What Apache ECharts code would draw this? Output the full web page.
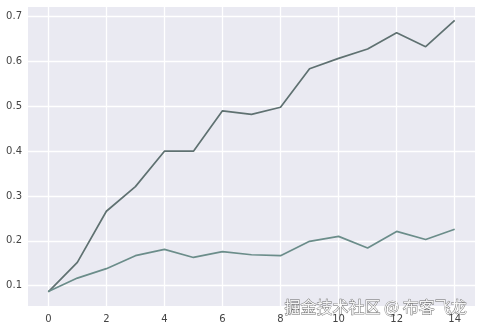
<!DOCTYPE html>
<html><head><meta charset="utf-8">
<script src="https://cdn.jsdelivr.net/npm/echarts@6/dist/echarts.min.js"></script>
<style>html,body{margin:0;padding:0;background:#fff}#c{width:481px;height:330px}</style>
</head><body><div id="c"></div>
<script>
const xs = [0,1,2,3,4,5,6,7,8,9,10,11,12,13,14];
const upper = [0.086,0.152,0.266,0.321,0.400,0.400,0.490,0.482,0.498,0.584,0.607,0.628,0.664,0.633,0.692];
const lower = [0.087,0.117,0.138,0.167,0.181,0.163,0.176,0.169,0.167,0.199,0.210,0.184,0.221,0.203,0.226];
const xTicks = [0,2,4,6,8,10,12,14];
const yTicks = [0.1,0.2,0.3,0.4,0.5,0.6,0.7];
const chart = echarts.init(document.getElementById('c'));
const pair = a => xs.map((x,i)=>[x,a[i]]);
chart.setOption({
  animation:false,
  backgroundColor:'#fff',
  grid:{left:28,right:6,top:7,bottom:24,backgroundColor:'#EAEAF2',show:true,borderWidth:0},
  xAxis:{type:'value',min:-0.7,max:14.7,
    axisLine:{show:false},axisTick:{show:false,customValues:xTicks},
    axisLabel:{fontSize:10,color:'#444',fontFamily:'DejaVu Sans',margin:8,
      customValues:xTicks,formatter:v=>String(v)},
    splitLine:{show:true,lineStyle:{color:'#fff',width:1.3}}
  },
  yAxis:{type:'value',min:0.0547,max:0.7216,
    axisLine:{show:false},axisTick:{show:false,customValues:yTicks},
    axisLabel:{fontSize:10,color:'#444',fontFamily:'DejaVu Sans',margin:6,
      customValues:yTicks,formatter:v=>v.toFixed(1)},
    splitLine:{show:true,lineStyle:{color:'#fff',width:1.3}}
  },
  series:[
    {type:'line',data:pair(upper),showSymbol:false,lineStyle:{color:'#5f7171',width:1.7},silent:true},
    {type:'line',data:pair(lower),showSymbol:false,lineStyle:{color:'#6b8d8a',width:1.7},silent:true}
  ],
  graphic:[{type:'text',left:284,top:299,style:{text:'掘金技术社区 @ 布客飞龙',font:'16px "Noto Sans CJK SC"',fill:'rgba(255,255,255,0.9)',stroke:'#666',lineWidth:0.8}}]
});
</script></body></html>
